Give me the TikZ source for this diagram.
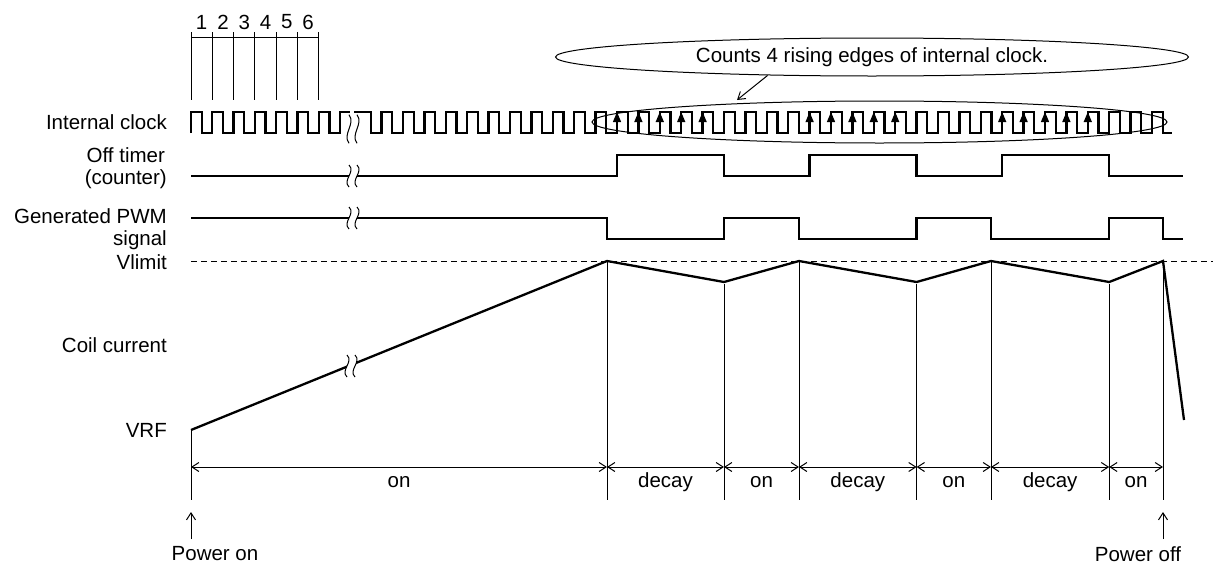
\documentclass[tikz,border=0pt]{standalone}
\usepackage{fontspec}
\setmainfont{Liberation Sans}
\usetikzlibrary{arrows.meta,shapes.geometric}
\begin{document}
\begin{tikzpicture}[x=1pt,y=-1pt,
  wave/.style={line width=2.3pt},
  fine/.style={line width=1pt},
  lbl/.style={font=\fontsize{20.5}{22}\selectfont, inner sep=0pt},
  barb/.style={line width=1pt,-{Straight Barb[length=7pt,width=9pt]}},
  dimline/.style={line width=1pt,{Straight Barb[length=7pt,width=9pt]}-{Straight Barb[length=7pt,width=9pt]}},
  edgearr/.style={line width=1.2pt,-{Triangle[length=10pt,width=8pt]}},
  brk/.pic={
    \fill[white] (-4,-11) .. controls (3,-4) and (-11,4) .. (-4,11) -- (4,11) .. controls (-3,4) and (11,-4) .. (4,-11) -- cycle;
    \draw[line width=1pt] (-4,-11) .. controls (3,-4) and (-11,4) .. (-4,11);
    \draw[line width=1pt] (4,-11) .. controls (11,-4) and (-3,4) .. (4,11);
  }
]
\useasboundingbox (0,0) rectangle (1213,565);

% numbered ruler
\draw[fine] (191,37) -- (319,37);
\foreach \k in {0,...,6} \draw[fine] ({191+21.3*\k},32) -- ({191+21.3*\k},100);
\foreach \k in {1,...,6} \node[lbl] (n\k) at ({191+21.3*\k-10.65},22) {\k};

% labels
\node[lbl, anchor=east] (lclk) at (167,122) {Internal clock};
\node[lbl, anchor=east, align=center] (loff) at (167,168) {Off timer\\(counter)};
\node[lbl, anchor=east, align=right] (lpwm) at (167,229) {Generated PWM\\signal};
\node[lbl, anchor=east] (lvl) at (167,262) {Vlimit};
\node[lbl, anchor=east] (lcc) at (167,345) {Coil current};
\node[lbl, anchor=east] (lvrf) at (167,430) {VRF};

% internal clock
\draw[wave] (191,133) \foreach \k in {0,...,6} { -- ++(0,-21) -- ++(10.65,0) -- ++(0,21) -- ++(10.65,0) } -- ++(0,-21) -- ++(10,0);
\draw[wave] (354,112) -- (370.9,112) -- (370.9,133) \foreach \k in {1,...,37} { -- ++(10.7,0) -- ++(0,-21) -- ++(10.7,0) -- ++(0,21) } -- ++(9.3,0);
\foreach \k in {0,1,2,3,4,9,10,11,12,13,18,19,20,21,22}
  \draw[edgearr] ({617+21.4*\k},131) -- ({617+21.4*\k},112);

% ellipse round the clock and callout
\node[draw, fine, ellipse, minimum width=575, minimum height=42, inner sep=0pt] (clkell) at (879.5,122) {};
\node[draw, fine, ellipse, minimum width=633, minimum height=38, lbl] (call) at (872,57) {Counts 4 rising edges of internal clock.};
\coordinate (ctip) at (737,100);
\draw[barb] (call.190) -- (ctip);

% off timer
\draw[wave] (191,176) -- (617,176) -- (617,155) -- (724,155) -- (724,176) -- (809.6,176) -- (809.6,155) -- (916.6,155) -- (916.6,176) -- (1002.2,176) -- (1002.2,155) -- (1109.2,155) -- (1109.2,176) -- (1183,176);

% PWM
\draw[wave] (191,218) -- (607,218) -- (607,239) -- (724,239) -- (724,218) -- (799,218) -- (799,239) -- (916.6,239) -- (916.6,218) -- (991,218) -- (991,239) -- (1109.2,239) -- (1109.2,218) -- (1163,218) -- (1163,239) -- (1183,239);

% Vlimit
\draw[fine, dash pattern=on 6pt off 4pt] (191,261) -- (1213,261);

% coil current
\draw[wave, line join=miter] (191,430) -- (607,261) -- (724,282) -- (799,261) -- (916.6,282) -- (991,261) -- (1109.2,282) -- (1163,261) -- (1184,420);

% breaks
\pic[yscale=1.3] at (353,129) {brk};
\pic at (353,176) {brk};
\pic at (353,218) {brk};
\pic at (351,366) {brk};

% extension lines
\foreach \x/\y in {191/430, 607/261, 724/284, 799/261, 916.6/284, 991/261, 1109.2/284, 1163/261}
  \draw[fine] (\x,\y) -- (\x,500);

% dimension lines
\coordinate (d0) at (191,467);
\coordinate (d1) at (607,467);
\coordinate (d2) at (724,467);
\coordinate (d3) at (799,467);
\coordinate (d4) at (916.6,467);
\coordinate (d5) at (991,467);
\coordinate (d6) at (1109.2,467);
\coordinate (d7) at (1163,467);
\draw[dimline] (d0) -- (d1);
\draw[dimline] (d1) -- (d2);
\draw[dimline] (d2) -- (d3);
\draw[dimline] (d3) -- (d4);
\draw[dimline] (d4) -- (d5);
\draw[dimline] (d5) -- (d6);
\draw[dimline] (d6) -- (d7);
\node[lbl] (t1) at (399,482) {on};
\node[lbl] (t2) at (665.5,482) {decay};
\node[lbl] (t3) at (761.5,482) {on};
\node[lbl] (t4) at (857.8,482) {decay};
\node[lbl] (t5) at (953.8,482) {on};
\node[lbl] (t6) at (1050.1,482) {decay};
\node[lbl] (t7) at (1136.1,482) {on};

% power on / off
\node[lbl] (pon) at (215,554) {Power on};
\node[lbl] (poff) at (1138,554) {Power off};
\coordinate (ponb) at (191,539);
\coordinate (pont) at (191,512);
\coordinate (poffb) at (1163,539);
\coordinate (pofft) at (1163,512);
\draw[barb] (ponb) -- (pont);
\draw[barb] (poffb) -- (pofft);
\end{tikzpicture}
\end{document}
